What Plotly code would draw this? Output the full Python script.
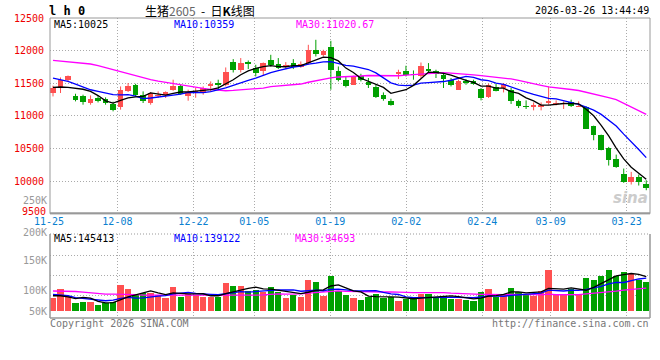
import plotly.graph_objects as go

# ---------------- data ----------------
tick_labels = ["11-25", "12-08", "12-22", "01-05", "01-19", "02-02", "02-24", "03-09", "03-23"]
tick_idx = [0, 9, 19, 27, 37, 47, 57, 66, 76]

opens = [11350, 11427, 11543, 11298, 11309, 11197, 11274, 11258, 11182, 11130,
         11385, 11477, 11324, 11197, 11298, 11313, 11401, 11451, 11298, 11370,
         11350, 11451, 11503, 11477, 11818, 11707, 11818, 11733, 11681, 11860,
         11798, 11742, 11809, 11748, 11809, 12013, 11936, 12063, 11691, 11554,
         11477, 11615, 11518, 11436, 11313, 11232, 11641, 11691, 11641, 11615,
         11722, 11691, 11619, 11554, 11401, 11528, 11528, 11411, 11283, 11442,
         11427, 11401, 11222, 11156, 11130, 11136, 11197, 11182, 11176, 11206,
         11136, 11136, 10839, 10712, 10509, 10345, 10115, 9982, 10059, 9962]
highs = [11462, 11589, 11619, 11339, 11324, 11313, 11309, 11283, 11217, 11451,
         11503, 11492, 11375, 11365, 11375, 11375, 11554, 11477, 11401, 11431,
         11451, 11528, 11554, 11742, 11870, 11886, 11849, 11783, 11818, 11936,
         11886, 11824, 11870, 11834, 12089, 12166, 12013, 12150, 11757, 11604,
         11615, 11645, 11580, 11477, 11359, 11263, 11707, 11768, 11696, 11818,
         11809, 11707, 11656, 11580, 11554, 11564, 11554, 11427, 11492, 11492,
         11503, 11427, 11248, 11237, 11206, 11206, 11451, 11237, 11222, 11248,
         11222, 11145, 10850, 10712, 10524, 10406, 10192, 10141, 10100, 10013]
lows = [11298, 11350, 11528, 11222, 11171, 11171, 11206, 11171, 11069, 11095,
        11365, 11298, 11197, 11171, 11274, 11274, 11385, 11324, 11232, 11278,
        11324, 11375, 11401, 11451, 11665, 11665, 11717, 11604, 11615, 11757,
        11717, 11717, 11717, 11737, 11783, 11910, 11910, 11401, 11528, 11436,
        11477, 11528, 11427, 11274, 11232, 11156, 11564, 11604, 11554, 11580,
        11656, 11580, 11427, 11451, 11401, 11477, 11477, 11237, 11274, 11375,
        11359, 11182, 11120, 11105, 11084, 11084, 11171, 11160, 11105, 11136,
        11136, 10804, 10625, 10472, 10238, 10203, 9973, 9947, 9932, 9860]
closes = [11427, 11554, 11604, 11248, 11206, 11263, 11232, 11197, 11084, 11401,
          11462, 11313, 11232, 11350, 11324, 11365, 11451, 11339, 11365, 11380,
          11427, 11492, 11477, 11665, 11707, 11809, 11794, 11656, 11809, 11783,
          11733, 11783, 11748, 11798, 12013, 11951, 11997, 11707, 11543, 11462,
          11615, 11554, 11466, 11283, 11263, 11160, 11665, 11630, 11619, 11757,
          11681, 11641, 11564, 11477, 11528, 11503, 11492, 11274, 11477, 11385,
          11492, 11222, 11145, 11130, 11160, 11171, 11222, 11197, 11197, 11145,
          11156, 10804, 10701, 10472, 10330, 10218, 9982, 10059, 9982, 9897]
volumes = [56000, 93000, 65000, 35000, 39000, 39000, 25000, 32000, 39000, 109000,
           93000, 67000, 77000, 77000, 67000, 56000, 102000, 60000, 73000, 67000,
           60000, 60000, 60000, 119000, 105000, 105000, 85000, 88000, 81000, 101000,
           81000, 56000, 67000, 60000, 130000, 122000, 65000, 148000, 85000, 67000,
           56000, 46000, 60000, 73000, 56000, 60000, 43000, 49000, 49000, 70000,
           73000, 60000, 65000, 51000, 51000, 46000, 43000, 81000, 93000, 59000,
           71000, 96000, 81000, 73000, 65000, 85000, 172000, 71000, 67000, 91000,
           67000, 140000, 130000, 147000, 172000, 148000, 165000, 155000, 130000, 123000]

# moving-average values before enough history exists
ma5_head = [11436, 11442, 11436, 11427]
ma10_head = [11580, 11554, 11528, 11488, 11442, 11400, 11375, 11350, 11324]
ma30_head = [11849, 11838, 11830, 11822, 11812, 11795, 11770, 11740, 11705, 11670,
             11638, 11608, 11580, 11555, 11533, 11513, 11497, 11478, 11458, 11438,
             11420, 11405, 11393, 11385, 11390, 11398, 11405, 11415, 11425]
vma5_head = [64000, 64000, 59000, 52000]
vma10_head = [70000, 67000, 64000, 56000, 53000, 50000, 46000, 43000, 46000]
vma30_head = [84000, 84000, 84000, 82000, 79000, 76000, 73000, 71000, 71000, 71000,
              71000, 69000, 67000, 67000, 67000, 67000, 64000, 64000, 64000, 64000,
              64000, 64000, 64000, 64000, 64000, 65000, 66000, 67000, 68000]

price_ticks = [10000, 10500, 11000, 11500, 12000, 12500]
price_tick_text = ["10000", "10500", "11000", "11500", "12000", "12500"]
price_floor_label = "9500"

title_text = "生猪<span style='color:#666666'>2605</span>&nbsp;&nbsp;-&nbsp;&nbsp;日<b>K</b>线图"
stamp_text = "2026-03-26 13:44:49"
ma_labels = ["MA5:10025", "MA10:10359", "MA30:11020.67"]
vma_labels = ["MA5:145413", "MA10:139122", "MA30:94693"]
vol_axis_labels = ["250K", "200K", "150K", "100K", "50K"]


def moving_avg(vals, n, head):
    out = list(head)
    for i in range(len(head), len(vals)):
        out.append(sum(vals[i - n + 1:i + 1]) / n)
    return out


# ---------------- styling ----------------
UP = "#FF5050"
DN = "#00A000"
GRID = "#AAAAAA"
BORDER = "#999999"
MONO = "DejaVu Sans Mono"

n = len(closes)
xs = list(range(n))
up_idx = [i for i in xs if closes[i] >= opens[i]]
dn_idx = [i for i in xs if closes[i] < opens[i]]

fig = go.Figure()


def wick_trace(idx, color):
    wx, wy = [], []
    for i in idx:
        wx += [i, i, None]
        wy += [lows[i], highs[i], None]
    return go.Scatter(x=wx, y=wy, mode="lines", line=dict(color=color, width=1),
                      xaxis="x", yaxis="y", showlegend=False, hoverinfo="skip")


def body_trace(idx, color):
    return go.Bar(x=idx,
                  base=[min(opens[i], closes[i]) for i in idx],
                  y=[max(abs(closes[i] - opens[i]), 14) for i in idx],
                  marker=dict(color=color, line=dict(width=0)),
                  width=0.74, xaxis="x", yaxis="y", showlegend=False, hoverinfo="skip")


fig.add_trace(wick_trace(up_idx, UP))
fig.add_trace(wick_trace(dn_idx, DN))
fig.add_trace(body_trace(up_idx, UP))
fig.add_trace(body_trace(dn_idx, DN))

for vals, col in [(moving_avg(closes, 30, ma30_head), "#FF00FF"),
                  (moving_avg(closes, 10, ma10_head), "#0000FF"),
                  (moving_avg(closes, 5, ma5_head), "#000000")]:
    fig.add_trace(go.Scatter(x=xs, y=vals, mode="lines", line=dict(color=col, width=1.3),
                             xaxis="x", yaxis="y", showlegend=False, hoverinfo="skip"))

# volume bars
fig.add_trace(go.Bar(x=up_idx, y=[volumes[i] for i in up_idx], marker=dict(color=UP, line=dict(width=0)),
                     width=0.84, xaxis="x2", yaxis="y2", showlegend=False, hoverinfo="skip"))
fig.add_trace(go.Bar(x=dn_idx, y=[volumes[i] for i in dn_idx], marker=dict(color=DN, line=dict(width=0)),
                     width=0.84, xaxis="x2", yaxis="y2", showlegend=False, hoverinfo="skip"))
for vals, col in [(moving_avg(volumes, 30, vma30_head), "#FF00FF"),
                  (moving_avg(volumes, 10, vma10_head), "#0000FF"),
                  (moving_avg(volumes, 5, vma5_head), "#000000")]:
    fig.add_trace(go.Scatter(x=xs, y=vals, mode="lines", line=dict(color=col, width=1.3),
                             xaxis="x2", yaxis="y2", showlegend=False, hoverinfo="skip"))

# ---------------- layout ----------------
W, H = 660, 360
L, R, T, B = 50, 10, 18, 42


def px(x):
    return (x - L) / (W - L - R)


def py(y):
    return (H - B - y) / (H - T - B)


grid_pos = [k * 1.0121 - 0.533 for k in tick_idx[1:]]
xrange_ = [-0.4, 79.5]
vol_scale = 4200.0  # volume units per pixel
vol_grid = [(311 - 255.7) * vol_scale, (311 - 275.7) * vol_scale, (311 - 295.7) * vol_scale]

fig.update_layout(
    width=W, height=H, autosize=False,
    margin=dict(l=L, r=R, t=T, b=B, pad=0),
    paper_bgcolor="white", plot_bgcolor="white",
    barmode="overlay", bargap=0, hovermode=False,
    font=dict(family=MONO, size=10, color="#000"),
    xaxis=dict(domain=[0, 1], anchor="y", range=xrange_, tickmode="array",
               tickvals=grid_pos, ticktext=tick_labels[1:],
               tickfont=dict(family=MONO, size=10, color="#0A80D0"),
               showgrid=True, gridcolor=GRID, griddash="1px,2px", gridwidth=1,
               zeroline=False, showline=False, ticks="", fixedrange=True),
    yaxis=dict(domain=[py(213.7), 1], anchor="x", range=[9500, 12500], tickmode="array",
               tickvals=price_ticks, ticktext=price_tick_text,
               tickfont=dict(family=MONO, size=10, color="#EE0000"),
               showgrid=True, gridcolor=GRID, griddash="1px,2px", gridwidth=1,
               zeroline=False, showline=False, ticks="outside", ticklen=3,
               tickcolor="rgba(0,0,0,0)", fixedrange=True),
    xaxis2=dict(domain=[0, 1], anchor="y2", range=xrange_, tickmode="array",
                tickvals=grid_pos, showticklabels=False,
                showgrid=True, gridcolor=GRID, griddash="1px,2px", gridwidth=1,
                zeroline=False, showline=False, ticks="", fixedrange=True),
    yaxis2=dict(domain=[0, py(234)], anchor="x2",
                range=[(311 - 318) * vol_scale, (311 - 234) * vol_scale],
                tickmode="array", tickvals=vol_grid, showticklabels=False,
                showgrid=True, gridcolor=GRID, griddash="1px,2px", gridwidth=1,
                zeroline=False, showline=False, ticks="", fixedrange=True),
)

shapes = []
# price panel border
shapes.append(dict(type="rect", xref="paper", yref="paper", x0=0, x1=1, y0=py(213.7), y1=1,
                   line=dict(color=BORDER, width=1), layer="above"))
shapes.append(dict(type="line", xref="paper", yref="paper", x0=0, x1=1, y0=py(213.2), y1=py(213.2),
                   line=dict(color=BORDER, width=2), layer="above"))
# volume panel border
for (x0, y0, x1, y1) in [(0, 0, 0, py(234)), (1, 0, 1, py(234)), (0, 0, 1, 0)]:
    shapes.append(dict(type="line", xref="paper", yref="paper", x0=x0, y0=y0, x1=x1, y1=y1,
                       line=dict(color=BORDER, width=1.5), layer="above"))
shapes.append(dict(type="line", xref="paper", yref="paper", x0=0, y0=py(234), x1=1, y1=py(234),
                   line=dict(color=BORDER, width=1, dash="1px,2px"), layer="above"))
fig.update_layout(shapes=shapes)

ann = []


def text(x, y, s, color="#000", size=10, anchor="left", family=MONO, **kw):
    ann.append(dict(x=px(x), y=py(y), xref="paper", yref="paper", text=s, showarrow=False,
                    xanchor=anchor, yanchor="middle", font=dict(family=family, size=size, color=color),
                    borderpad=0, **kw))


text(48, 10.5, "<b>l h 0</b>", size=12)
text(200, 10, title_text, size=12, anchor="center", family="Noto Sans CJK SC")
text(534, 11, stamp_text, anchor="left")
text(53, 24, ma_labels[0], color="#000000")
text(173, 24, ma_labels[1], color="#0000FF")
text(295, 24, ma_labels[2], color="#FF00FF")
text(53, 238.5, vma_labels[0], color="#000000")
text(173, 238.5, vma_labels[1], color="#0000FF")
text(294, 238.5, vma_labels[2], color="#FF00FF")
text(46.5, 211, price_floor_label, color="#EE0000", anchor="right")
text(49, 221, tick_labels[0], color="#0A80D0", anchor="center")
for lbl, yy in zip(vol_axis_labels, [200, 232, 260.5, 290.5, 311]):
    text(47.5, yy, lbl, color="#999999", anchor="right")
text(49, 323.5, "Copyright 2026 SINA.COM", color="#777777")
text(650, 323.5, "http://finance.sina.com.cn", color="#777777", anchor="right")
text(649, 198, "<b><i>sina</i></b>", color="#CCCCCC", size=15, anchor="right", family="DejaVu Sans")
fig.update_layout(annotations=ann)

fig.write_html("out.html", config={"displayModeBar": False, "staticPlot": True},
               post_script="document.body.style.margin='0px';document.body.style.padding='0px';")
